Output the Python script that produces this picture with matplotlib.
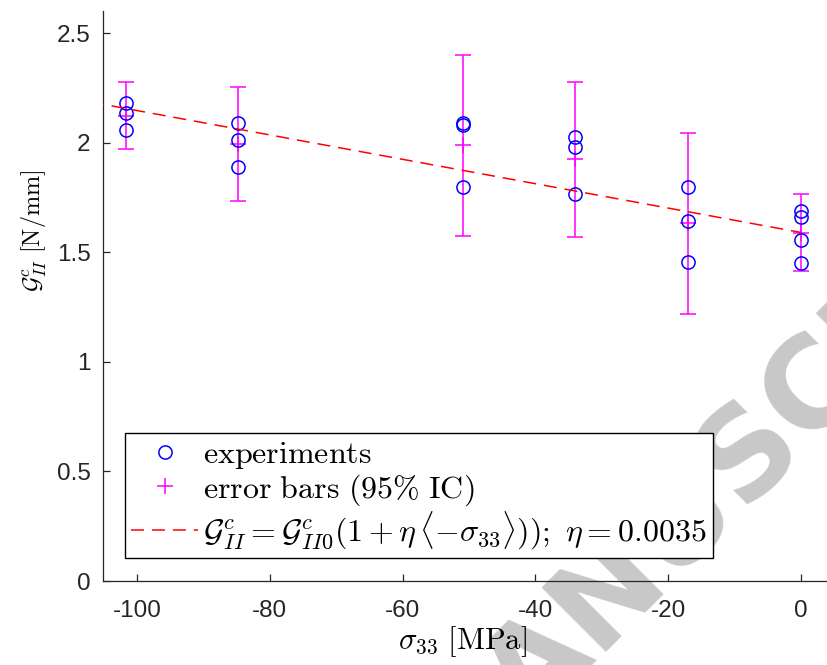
import numpy as np
import matplotlib
matplotlib.use("Agg")
import matplotlib.pyplot as plt

# confining stress of each test series [MPa]
sigma_groups = [-101.7, -84.7, -50.9, -34.0, -17.0, 0.0]
# measured mode II toughness per series [N/mm]
g_groups = [
    [2.179, 2.134, 2.058],
    [2.088, 2.012, 1.887],
    [2.088, 2.080, 1.796],
    [2.024, 1.979, 1.766],
    [1.796, 1.642, 1.457],
    [1.688, 1.662, 1.556, 1.449],
]
# 95% confidence interval bounds per series
ci_low = [1.969, 1.735, 1.574, 1.571, 1.217, 1.416]
ci_high = [2.275, 2.252, 2.401, 2.275, 2.045, 1.766]
# fitted law
G0 = 1.59
eta = 0.0035

x_ticks = [-100, -80, -60, -40, -20, 0]
y_ticks = [0, 0.5, 1, 1.5, 2, 2.5]

plt.rcParams["mathtext.fontset"] = "cm"
plt.rcParams["axes.unicode_minus"] = False
plt.rcParams["font.family"] = ["Liberation Sans", "DejaVu Sans"]

fig = plt.figure(figsize=(8.27, 6.65), dpi=100)

# faint watermark behind the plot
fig.text(0.898, 0.316, "MANUSCRIPT", rotation=45, fontsize=90,
         fontweight="bold", color="#c8c8c8", ha="center", va="center",
         zorder=-1, family="DejaVu Sans")

ax = fig.add_axes([0.1245, 0.1263, 0.8755, 0.857])
ax.patch.set_alpha(0)

xs = np.concatenate([[s] * len(g) for s, g in zip(sigma_groups, g_groups)])
gs = np.concatenate(g_groups)
means = np.array([np.mean(g) for g in g_groups])
yerr = [means - np.array(ci_low), np.array(ci_high) - means]

h_exp, = ax.plot(xs, gs, "o", mfc="none", mec="#0000ff", ms=9.5, mew=1.1,
                 zorder=3)
eb = ax.errorbar(sigma_groups, means, yerr=yerr, fmt="+", color="#ff00ff",
                 ms=12, mew=1.1, elinewidth=1.1, capsize=5.5, capthick=1.1,
                 zorder=2)
x_fit = np.array([-110.0, 0.0])
h_fit, = ax.plot(x_fit, G0 * (1 + eta * (-x_fit)), color="#ff0000", lw=1.1,
                 dashes=(8.5, 5.2), zorder=4)

ax.set_xlim(-105.1, 3.9)
ax.set_ylim(0, 2.6)
ax.set_xticks(x_ticks)
ax.set_yticks(y_ticks)
ax.set_yticklabels(["%g" % v for v in y_ticks])

for side in ["top", "right"]:
    ax.spines[side].set_visible(False)
for side in ["left", "bottom"]:
    ax.spines[side].set_color("#262626")
    ax.spines[side].set_linewidth(0.9)
ax.tick_params(direction="in", length=5, width=0.9, color="#262626",
               labelcolor="#262626", labelsize=17.5)
ax.tick_params(axis="x", pad=14)
ax.tick_params(axis="y", pad=9)

ax.set_xlabel(r"$\sigma_{33}\ [\mathrm{MPa}]$", fontsize=22)
ax.set_ylabel(r"$\mathcal{G}^c_{II}\ [\mathrm{N/mm}]$", fontsize=17.5)
ax.xaxis.set_label_coords(0.496, -0.075)
ax.yaxis.set_label_coords(-0.075, 0.615)

labels = [r"$\mathrm{experiments}$",
          r"$\mathrm{error\ bars\ (95\%\ IC)}$",
          r"$\mathcal{G}^c_{II}=\mathcal{G}^c_{II0}(1+\eta\,\langle{-}\sigma_{33}\rangle));\ \eta=0.0035$"]
leg = ax.legend([h_exp, eb[0], h_fit], labels, loc="lower left",
                bbox_to_anchor=(0.151, 0.161), bbox_transform=fig.transFigure,
                fontsize=23, frameon=True, fancybox=False,
                edgecolor="black", framealpha=1, borderpad=0.2,
                labelspacing=0.05, handlelength=2.1, handletextpad=0.15,
                borderaxespad=0)
leg.get_frame().set_linewidth(1.0)

fig.savefig("out.png", dpi=100)
